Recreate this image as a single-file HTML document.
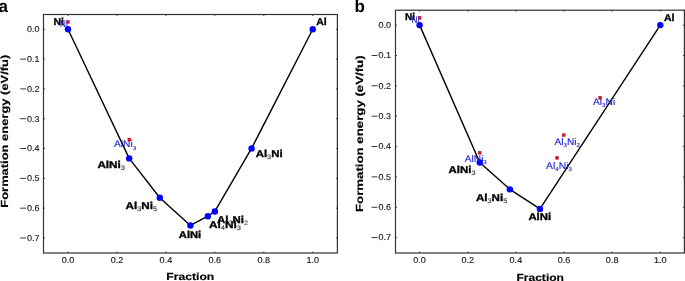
<!DOCTYPE html>
<html><head><meta charset="utf-8"><title>Formation energy convex hull</title>
<style>html,body{margin:0;padding:0;background:#fff;width:685px;height:281px;overflow:hidden;font-family:'Liberation Sans', sans-serif;}</style>
</head><body>
<svg width="685" height="281" viewBox="0 0 685 281" style="display:block;font-family:'Liberation Sans', sans-serif;text-rendering:geometricPrecision;will-change:transform">
<rect width="685" height="281" fill="#fff"/>
<rect x="43.5" y="14.5" width="293.90" height="238.50" fill="none" stroke="#333333" stroke-width="1.2"/>
<path d="M68.00 253.00v-1.5M68.00 14.50v1.5M116.95 253.00v-1.5M116.95 14.50v1.5M165.90 253.00v-1.5M165.90 14.50v1.5M214.85 253.00v-1.5M214.85 14.50v1.5M263.80 253.00v-1.5M263.80 14.50v1.5M312.75 253.00v-1.5M312.75 14.50v1.5M43.50 29.30h1.5M337.40 29.30h-1.5M43.50 59.11h1.5M337.40 59.11h-1.5M43.50 88.92h1.5M337.40 88.92h-1.5M43.50 118.73h1.5M337.40 118.73h-1.5M43.50 148.54h1.5M337.40 148.54h-1.5M43.50 178.35h1.5M337.40 178.35h-1.5M43.50 208.16h1.5M337.40 208.16h-1.5M43.50 237.97h1.5M337.40 237.97h-1.5" stroke="#333333" stroke-width="0.9" fill="none"/>
<text x="68.00" y="263.2" font-size="8.5" text-anchor="middle" fill="#1a1a1a" stroke="#1a1a1a" stroke-width="0.15" textLength="12.6" lengthAdjust="spacingAndGlyphs">0.0</text>
<text x="116.95" y="263.2" font-size="8.5" text-anchor="middle" fill="#1a1a1a" stroke="#1a1a1a" stroke-width="0.15" textLength="12.6" lengthAdjust="spacingAndGlyphs">0.2</text>
<text x="165.90" y="263.2" font-size="8.5" text-anchor="middle" fill="#1a1a1a" stroke="#1a1a1a" stroke-width="0.15" textLength="12.6" lengthAdjust="spacingAndGlyphs">0.4</text>
<text x="214.85" y="263.2" font-size="8.5" text-anchor="middle" fill="#1a1a1a" stroke="#1a1a1a" stroke-width="0.15" textLength="12.6" lengthAdjust="spacingAndGlyphs">0.6</text>
<text x="263.80" y="263.2" font-size="8.5" text-anchor="middle" fill="#1a1a1a" stroke="#1a1a1a" stroke-width="0.15" textLength="12.6" lengthAdjust="spacingAndGlyphs">0.8</text>
<text x="312.75" y="263.2" font-size="8.5" text-anchor="middle" fill="#1a1a1a" stroke="#1a1a1a" stroke-width="0.15" textLength="12.6" lengthAdjust="spacingAndGlyphs">1.0</text>
<text x="39.6" y="32.10" font-size="8.5" text-anchor="end" fill="#1a1a1a" stroke="#1a1a1a" stroke-width="0.15" textLength="12.5" lengthAdjust="spacingAndGlyphs">0.0</text>
<text x="39.6" y="61.91" font-size="8.5" text-anchor="end" fill="#1a1a1a" stroke="#1a1a1a" stroke-width="0.15" textLength="12.5" lengthAdjust="spacingAndGlyphs">0.1</text>
<rect x="20.20" y="58.66" width="5.8" height="0.9" fill="#222"/>
<text x="39.6" y="91.72" font-size="8.5" text-anchor="end" fill="#1a1a1a" stroke="#1a1a1a" stroke-width="0.15" textLength="12.5" lengthAdjust="spacingAndGlyphs">0.2</text>
<rect x="20.20" y="88.47" width="5.8" height="0.9" fill="#222"/>
<text x="39.6" y="121.53" font-size="8.5" text-anchor="end" fill="#1a1a1a" stroke="#1a1a1a" stroke-width="0.15" textLength="12.5" lengthAdjust="spacingAndGlyphs">0.3</text>
<rect x="20.20" y="118.28" width="5.8" height="0.9" fill="#222"/>
<text x="39.6" y="151.34" font-size="8.5" text-anchor="end" fill="#1a1a1a" stroke="#1a1a1a" stroke-width="0.15" textLength="12.5" lengthAdjust="spacingAndGlyphs">0.4</text>
<rect x="20.20" y="148.09" width="5.8" height="0.9" fill="#222"/>
<text x="39.6" y="181.15" font-size="8.5" text-anchor="end" fill="#1a1a1a" stroke="#1a1a1a" stroke-width="0.15" textLength="12.5" lengthAdjust="spacingAndGlyphs">0.5</text>
<rect x="20.20" y="177.90" width="5.8" height="0.9" fill="#222"/>
<text x="39.6" y="210.96" font-size="8.5" text-anchor="end" fill="#1a1a1a" stroke="#1a1a1a" stroke-width="0.15" textLength="12.5" lengthAdjust="spacingAndGlyphs">0.6</text>
<rect x="20.20" y="207.71" width="5.8" height="0.9" fill="#222"/>
<text x="39.6" y="240.77" font-size="8.5" text-anchor="end" fill="#1a1a1a" stroke="#1a1a1a" stroke-width="0.15" textLength="12.5" lengthAdjust="spacingAndGlyphs">0.7</text>
<rect x="20.20" y="237.52" width="5.8" height="0.9" fill="#222"/>
<text transform="translate(7.9 207.7) rotate(-90)" x="0" y="0" font-size="10.3" font-weight="bold" fill="#000" stroke="#000" stroke-width="0.15" textLength="153.0" lengthAdjust="spacingAndGlyphs">Formation energy (eV/fu)</text>
<text x="166.3" y="279.8" font-size="10.3" font-weight="bold" fill="#000" stroke="#000" stroke-width="0.15" textLength="48.0" lengthAdjust="spacingAndGlyphs">Fraction</text>
<text x="-1.5" y="11.7" font-size="17" font-weight="bold" fill="#000">a</text>
<polyline points="68.00,29.30 129.19,158.38 159.78,197.73 190.38,225.45 207.86,216.21 214.85,211.44 251.56,148.39 312.75,29.30" fill="none" stroke="#000" stroke-width="1.4" stroke-linejoin="round"/>
<circle cx="68.00" cy="29.30" r="3.2" fill="#0000ff"/>
<circle cx="129.19" cy="158.38" r="3.2" fill="#0000ff"/>
<circle cx="159.78" cy="197.73" r="3.2" fill="#0000ff"/>
<circle cx="190.38" cy="225.45" r="3.2" fill="#0000ff"/>
<circle cx="207.86" cy="216.21" r="3.2" fill="#0000ff"/>
<circle cx="214.85" cy="211.44" r="3.2" fill="#0000ff"/>
<circle cx="251.56" cy="148.39" r="3.2" fill="#0000ff"/>
<circle cx="312.75" cy="29.30" r="3.2" fill="#0000ff"/>
<text x="53.40" y="24.70" font-size="10" fill="#000" font-weight="bold" stroke="#000" stroke-width="0.35" textLength="10.40" lengthAdjust="spacingAndGlyphs"><tspan>Ni</tspan></text>
<text x="97.40" y="167.70" font-size="10" fill="#000" font-weight="bold" stroke="#000" stroke-width="0.35" textLength="27.60" lengthAdjust="spacingAndGlyphs"><tspan>AlNi</tspan><tspan font-size="6.40" dy="2.00" font-weight="normal" fill="#454545" stroke="#454545" stroke-width="0.15">3</tspan></text>
<text x="125.50" y="208.50" font-size="10" fill="#000" font-weight="bold" stroke="#000" stroke-width="0.35" textLength="31.60" lengthAdjust="spacingAndGlyphs"><tspan>Al</tspan><tspan font-size="6.40" dy="2.00" font-weight="normal" fill="#454545" stroke="#454545" stroke-width="0.15">3</tspan><tspan dy="-2.00">Ni</tspan><tspan font-size="6.40" dy="2.00" font-weight="normal" fill="#454545" stroke="#454545" stroke-width="0.15">5</tspan></text>
<text x="178.80" y="237.60" font-size="10" fill="#000" font-weight="bold" stroke="#000" stroke-width="0.35" textLength="22.40" lengthAdjust="spacingAndGlyphs"><tspan>AlNi</tspan></text>
<text x="208.90" y="228.00" font-size="10" fill="#000" font-weight="bold" stroke="#000" stroke-width="0.35" textLength="32.00" lengthAdjust="spacingAndGlyphs"><tspan>Al</tspan><tspan font-size="6.40" dy="2.00" font-weight="normal" fill="#454545" stroke="#454545" stroke-width="0.15">4</tspan><tspan dy="-2.00">Ni</tspan><tspan font-size="6.40" dy="2.00" font-weight="normal" fill="#454545" stroke="#454545" stroke-width="0.15">3</tspan></text>
<text x="217.10" y="223.30" font-size="10" fill="#000" font-weight="bold" stroke="#000" stroke-width="0.35" textLength="31.00" lengthAdjust="spacingAndGlyphs"><tspan>Al</tspan><tspan font-size="6.40" dy="2.00" font-weight="normal" fill="#454545" stroke="#454545" stroke-width="0.15">3</tspan><tspan dy="-2.00">Ni</tspan><tspan font-size="6.40" dy="2.00" font-weight="normal" fill="#454545" stroke="#454545" stroke-width="0.15">2</tspan></text>
<text x="255.70" y="156.80" font-size="10" fill="#000" font-weight="bold" stroke="#000" stroke-width="0.35" textLength="26.90" lengthAdjust="spacingAndGlyphs"><tspan>Al</tspan><tspan font-size="6.40" dy="2.00" font-weight="normal" fill="#454545" stroke="#454545" stroke-width="0.15">3</tspan><tspan dy="-2.00">Ni</tspan></text>
<text x="316.20" y="24.80" font-size="10" fill="#000" font-weight="bold" stroke="#000" stroke-width="0.35" textLength="10.50" lengthAdjust="spacingAndGlyphs"><tspan>Al</tspan></text>
<text x="60.10" y="26.60" font-size="9.6" fill="#1a1ad2" font-weight="normal" stroke="#1a1ad2" stroke-width="0.1" textLength="7.60" lengthAdjust="spacingAndGlyphs"><tspan>Ni</tspan></text>
<text x="114.00" y="147.30" font-size="9.6" fill="#1a1ad2" font-weight="normal" stroke="#1a1ad2" stroke-width="0.1" textLength="22.20" lengthAdjust="spacingAndGlyphs"><tspan>AlNi</tspan><tspan font-size="5.80" dy="2.50" font-weight="normal" fill="#2a2ad8" stroke="#2a2ad8" stroke-width="0.15">3</tspan></text>
<rect x="66.25" y="20.25" width="3.4" height="3.4" fill="#b3174f"/>
<rect x="127.55" y="137.95" width="3.4" height="3.4" fill="#cc1028"/>
<rect x="395.5" y="10.2" width="288.90" height="242.80" fill="none" stroke="#333333" stroke-width="1.2"/>
<path d="M419.60 253.00v-1.5M419.60 10.20v1.5M467.74 253.00v-1.5M467.74 10.20v1.5M515.88 253.00v-1.5M515.88 10.20v1.5M564.02 253.00v-1.5M564.02 10.20v1.5M612.16 253.00v-1.5M612.16 10.20v1.5M660.30 253.00v-1.5M660.30 10.20v1.5M395.50 25.10h1.5M684.40 25.10h-1.5M395.50 55.46h1.5M684.40 55.46h-1.5M395.50 85.82h1.5M684.40 85.82h-1.5M395.50 116.18h1.5M684.40 116.18h-1.5M395.50 146.54h1.5M684.40 146.54h-1.5M395.50 176.90h1.5M684.40 176.90h-1.5M395.50 207.26h1.5M684.40 207.26h-1.5M395.50 237.62h1.5M684.40 237.62h-1.5" stroke="#333333" stroke-width="0.9" fill="none"/>
<text x="419.60" y="263.4" font-size="8.5" text-anchor="middle" fill="#1a1a1a" stroke="#1a1a1a" stroke-width="0.15" textLength="12.6" lengthAdjust="spacingAndGlyphs">0.0</text>
<text x="467.74" y="263.4" font-size="8.5" text-anchor="middle" fill="#1a1a1a" stroke="#1a1a1a" stroke-width="0.15" textLength="12.6" lengthAdjust="spacingAndGlyphs">0.2</text>
<text x="515.88" y="263.4" font-size="8.5" text-anchor="middle" fill="#1a1a1a" stroke="#1a1a1a" stroke-width="0.15" textLength="12.6" lengthAdjust="spacingAndGlyphs">0.4</text>
<text x="564.02" y="263.4" font-size="8.5" text-anchor="middle" fill="#1a1a1a" stroke="#1a1a1a" stroke-width="0.15" textLength="12.6" lengthAdjust="spacingAndGlyphs">0.6</text>
<text x="612.16" y="263.4" font-size="8.5" text-anchor="middle" fill="#1a1a1a" stroke="#1a1a1a" stroke-width="0.15" textLength="12.6" lengthAdjust="spacingAndGlyphs">0.8</text>
<text x="660.30" y="263.4" font-size="8.5" text-anchor="middle" fill="#1a1a1a" stroke="#1a1a1a" stroke-width="0.15" textLength="12.6" lengthAdjust="spacingAndGlyphs">1.0</text>
<text x="391.0" y="27.90" font-size="8.5" text-anchor="end" fill="#1a1a1a" stroke="#1a1a1a" stroke-width="0.15" textLength="12.5" lengthAdjust="spacingAndGlyphs">0.0</text>
<text x="391.0" y="58.26" font-size="8.5" text-anchor="end" fill="#1a1a1a" stroke="#1a1a1a" stroke-width="0.15" textLength="12.5" lengthAdjust="spacingAndGlyphs">0.1</text>
<rect x="371.60" y="55.01" width="5.8" height="0.9" fill="#222"/>
<text x="391.0" y="88.62" font-size="8.5" text-anchor="end" fill="#1a1a1a" stroke="#1a1a1a" stroke-width="0.15" textLength="12.5" lengthAdjust="spacingAndGlyphs">0.2</text>
<rect x="371.60" y="85.37" width="5.8" height="0.9" fill="#222"/>
<text x="391.0" y="118.98" font-size="8.5" text-anchor="end" fill="#1a1a1a" stroke="#1a1a1a" stroke-width="0.15" textLength="12.5" lengthAdjust="spacingAndGlyphs">0.3</text>
<rect x="371.60" y="115.73" width="5.8" height="0.9" fill="#222"/>
<text x="391.0" y="149.34" font-size="8.5" text-anchor="end" fill="#1a1a1a" stroke="#1a1a1a" stroke-width="0.15" textLength="12.5" lengthAdjust="spacingAndGlyphs">0.4</text>
<rect x="371.60" y="146.09" width="5.8" height="0.9" fill="#222"/>
<text x="391.0" y="179.70" font-size="8.5" text-anchor="end" fill="#1a1a1a" stroke="#1a1a1a" stroke-width="0.15" textLength="12.5" lengthAdjust="spacingAndGlyphs">0.5</text>
<rect x="371.60" y="176.45" width="5.8" height="0.9" fill="#222"/>
<text x="391.0" y="210.06" font-size="8.5" text-anchor="end" fill="#1a1a1a" stroke="#1a1a1a" stroke-width="0.15" textLength="12.5" lengthAdjust="spacingAndGlyphs">0.6</text>
<rect x="371.60" y="206.81" width="5.8" height="0.9" fill="#222"/>
<text x="391.0" y="240.42" font-size="8.5" text-anchor="end" fill="#1a1a1a" stroke="#1a1a1a" stroke-width="0.15" textLength="12.5" lengthAdjust="spacingAndGlyphs">0.7</text>
<rect x="371.60" y="237.17" width="5.8" height="0.9" fill="#222"/>
<text transform="translate(362.9 212.0) rotate(-90)" x="0" y="0" font-size="10.3" font-weight="bold" fill="#000" stroke="#000" stroke-width="0.15" textLength="156.6" lengthAdjust="spacingAndGlyphs">Formation energy (eV/fu)</text>
<text x="516.4" y="280.6" font-size="10.3" font-weight="bold" fill="#000" stroke="#000" stroke-width="0.15" textLength="47.6" lengthAdjust="spacingAndGlyphs">Fraction</text>
<text x="354.4" y="11.6" font-size="17" font-weight="bold" fill="#000">b</text>
<polyline points="419.60,25.10 479.78,162.48 509.86,189.35 539.95,208.90 660.30,25.10" fill="none" stroke="#000" stroke-width="1.4" stroke-linejoin="round"/>
<circle cx="419.60" cy="25.10" r="3.2" fill="#0000ff"/>
<circle cx="479.78" cy="162.48" r="3.2" fill="#0000ff"/>
<circle cx="509.86" cy="189.35" r="3.2" fill="#0000ff"/>
<circle cx="539.95" cy="208.90" r="3.2" fill="#0000ff"/>
<circle cx="660.30" cy="25.10" r="3.2" fill="#0000ff"/>
<text x="405.00" y="20.20" font-size="10" fill="#000" font-weight="bold" stroke="#000" stroke-width="0.35" textLength="10.00" lengthAdjust="spacingAndGlyphs"><tspan>Ni</tspan></text>
<text x="448.60" y="172.80" font-size="10" fill="#000" font-weight="bold" stroke="#000" stroke-width="0.35" textLength="26.90" lengthAdjust="spacingAndGlyphs"><tspan>AlNi</tspan><tspan font-size="6.40" dy="2.00" font-weight="normal" fill="#454545" stroke="#454545" stroke-width="0.15">3</tspan></text>
<text x="475.90" y="200.50" font-size="10" fill="#000" font-weight="bold" stroke="#000" stroke-width="0.35" textLength="31.40" lengthAdjust="spacingAndGlyphs"><tspan>Al</tspan><tspan font-size="6.40" dy="2.00" font-weight="normal" fill="#454545" stroke="#454545" stroke-width="0.15">3</tspan><tspan dy="-2.00">Ni</tspan><tspan font-size="6.40" dy="2.00" font-weight="normal" fill="#454545" stroke="#454545" stroke-width="0.15">5</tspan></text>
<text x="528.40" y="220.20" font-size="10" fill="#000" font-weight="bold" stroke="#000" stroke-width="0.35" textLength="22.70" lengthAdjust="spacingAndGlyphs"><tspan>AlNi</tspan></text>
<text x="663.90" y="20.80" font-size="10" fill="#000" font-weight="bold" stroke="#000" stroke-width="0.35" textLength="10.50" lengthAdjust="spacingAndGlyphs"><tspan>Al</tspan></text>
<text x="411.60" y="22.60" font-size="9.6" fill="#1a1ad2" font-weight="normal" stroke="#1a1ad2" stroke-width="0.1" textLength="7.80" lengthAdjust="spacingAndGlyphs"><tspan>Ni</tspan></text>
<text x="464.80" y="161.90" font-size="9.6" fill="#1a1ad2" font-weight="normal" stroke="#1a1ad2" stroke-width="0.1" textLength="22.00" lengthAdjust="spacingAndGlyphs"><tspan>AlNi</tspan><tspan font-size="5.80" dy="2.50" font-weight="normal" fill="#2a2ad8" stroke="#2a2ad8" stroke-width="0.15">3</tspan></text>
<text x="554.50" y="144.60" font-size="9.6" fill="#1a1ad2" font-weight="normal" stroke="#1a1ad2" stroke-width="0.1" textLength="25.50" lengthAdjust="spacingAndGlyphs"><tspan>Al</tspan><tspan font-size="5.80" dy="2.50" font-weight="normal" fill="#2a2ad8" stroke="#2a2ad8" stroke-width="0.15">3</tspan><tspan dy="-2.50">Ni</tspan><tspan font-size="5.80" dy="2.50" font-weight="normal" fill="#2a2ad8" stroke="#2a2ad8" stroke-width="0.15">2</tspan></text>
<text x="546.10" y="168.60" font-size="9.6" fill="#1a1ad2" font-weight="normal" stroke="#1a1ad2" stroke-width="0.1" textLength="25.80" lengthAdjust="spacingAndGlyphs"><tspan>Al</tspan><tspan font-size="5.80" dy="2.50" font-weight="normal" fill="#2a2ad8" stroke="#2a2ad8" stroke-width="0.15">4</tspan><tspan dy="-2.50">Ni</tspan><tspan font-size="5.80" dy="2.50" font-weight="normal" fill="#2a2ad8" stroke="#2a2ad8" stroke-width="0.15">3</tspan></text>
<text x="593.00" y="104.60" font-size="9.6" fill="#1a1ad2" font-weight="normal" stroke="#1a1ad2" stroke-width="0.1" textLength="22.20" lengthAdjust="spacingAndGlyphs"><tspan>Al</tspan><tspan font-size="5.80" dy="2.50" font-weight="normal" fill="#2a2ad8" stroke="#2a2ad8" stroke-width="0.15">3</tspan><tspan dy="-2.50">Ni</tspan></text>
<rect x="418.00" y="16.15" width="3.4" height="3.4" fill="#b3174f"/>
<rect x="478.10" y="151.10" width="3.4" height="3.4" fill="#cc1028"/>
<rect x="555.30" y="156.20" width="3.4" height="3.4" fill="#cc1028"/>
<rect x="562.10" y="133.35" width="3.4" height="3.4" fill="#cc1028"/>
<rect x="598.35" y="96.10" width="3.4" height="3.4" fill="#cc1028"/>
</svg>
</body></html>
